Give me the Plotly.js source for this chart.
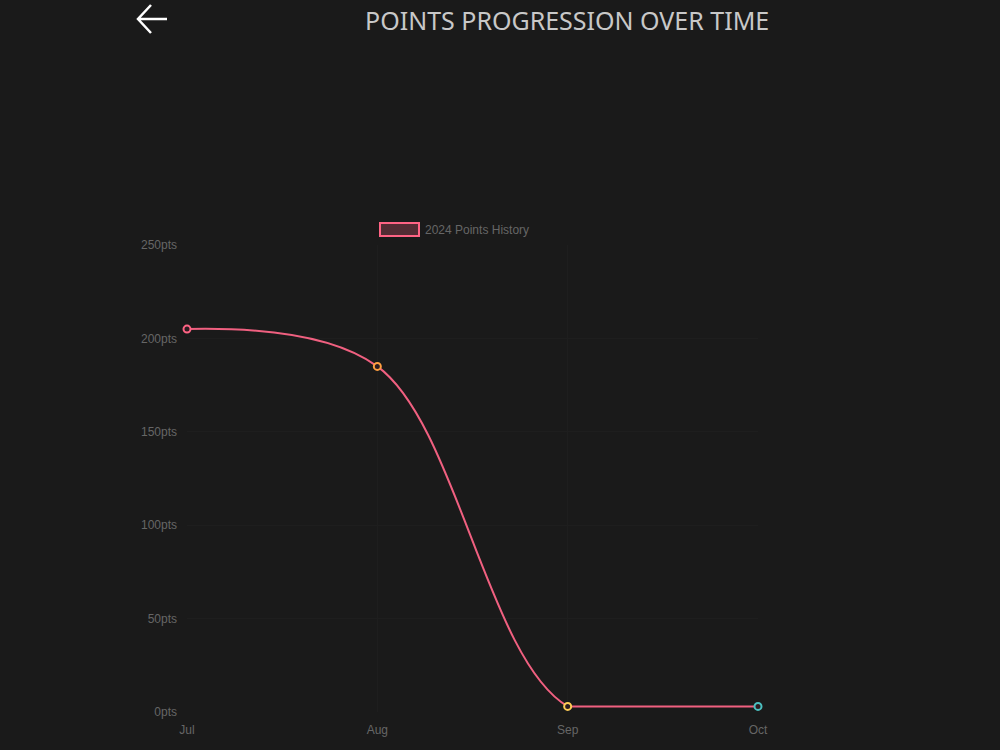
<!DOCTYPE html>
<html>
<head>
<meta charset="utf-8">
<script src="https://cdn.plot.ly/plotly-3.0.1.min.js"></script>
<style>
html,body{margin:0;padding:0;background:#1a1a1a;}
#chart{width:1000px;height:750px;}
</style>
</head>
<body>
<div id="chart"></div>
<script>
const months = ["Jul", "Aug", "Sep", "Oct"];
const points = [205, 185, 3, 3];
const markerColors = ["#ff6384", "#ff9f40", "#ffcd56", "#4bc0c0"];
const yTickValues = [0, 50, 100, 150, 200, 250];
const yTickLabels = ["0pts", "50pts", "100pts", "150pts", "200pts", "250pts"];
const seriesName = "2024 Points History";
const chartTitle = "POINTS PROGRESSION OVER TIME";

const L = 187, R = 758, T = 245, B = 712;
const px = x => (x - L) / (R - L);
const py = y => (B - y) / (B - T);
const lineColor = "#f06080";
const bg = "#1a1a1a";

const curve = {
  x: months, y: points, type: "scatter", mode: "lines", name: seriesName,
  line: {shape: "spline", smoothing: 1, color: lineColor, width: 2},
  showlegend: false, hoverinfo: "skip"
};
const tail = {
  x: months.slice(2), y: points.slice(2), type: "scatter", mode: "lines",
  line: {shape: "linear", color: lineColor, width: 2},
  fill: "tozeroy", fillcolor: bg,
  showlegend: false, hoverinfo: "skip"
};
const dots = {
  x: months, y: points, type: "scatter", mode: "markers", name: seriesName,
  marker: {size: 7, color: "rgba(45,28,33,1)", line: {color: markerColors, width: 2}},
  showlegend: false, cliponaxis: false
};

const layout = {
  width: 1000, height: 750,
  paper_bgcolor: bg,
  plot_bgcolor: bg,
  margin: {l: L, r: 1000 - R, t: T, b: 750 - B},
  xaxis: {
    type: "category", range: [0, 3], showgrid: true, gridcolor: "#1e1e1e", gridwidth: 1,
    zeroline: false, showline: false, ticks: "",
    tickfont: {family: "Liberation Sans, Arial", size: 12, color: "#666666"}, ticklabelstandoff: 9
  },
  yaxis: {
    range: [0, 250], tickvals: yTickValues, ticktext: yTickLabels,
    showgrid: true, gridcolor: "#1e1e1e", gridwidth: 1, zeroline: false, showline: false, ticks: "",
    tickfont: {family: "Liberation Sans, Arial", size: 12, color: "#666666"}, ticklabelstandoff: 9
  },
  shapes: [
    {type: "path", xref: "paper", yref: "paper",
     path: `M ${px(167)} ${py(19)} L ${px(139)} ${py(19)} M ${px(151)} ${py(5)} L ${px(138)} ${py(19)} L ${px(151)} ${py(33)}`,
     line: {color: "#ffffff", width: 2.5}},
    {type: "rect", xref: "paper", yref: "paper",
     x0: px(380), x1: px(419), y0: py(223), y1: py(236),
     fillcolor: "rgba(255,99,132,0.25)", line: {color: "#ff6384", width: 2}}
  ],
  annotations: [
    {text: chartTitle, xref: "paper", yref: "paper", x: px(567), y: py(20),
     xanchor: "center", yanchor: "middle", showarrow: false,
     font: {family: "Noto Sans, Open Sans", size: 25, color: "#c8c8c8"}},
    {text: seriesName, xref: "paper", yref: "paper", x: px(423), y: py(229.5),
     xanchor: "left", yanchor: "middle", showarrow: false,
     font: {family: "Liberation Sans, Arial", size: 12, color: "#666666"}}
  ]
};

Plotly.newPlot("chart", [curve, tail, dots], layout, {displayModeBar: false, staticPlot: true});
</script>
</body>
</html>
